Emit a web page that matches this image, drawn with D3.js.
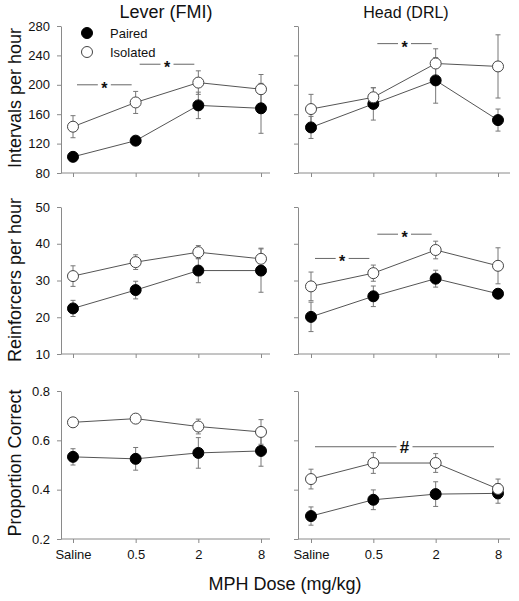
<!DOCTYPE html>
<html>
<head>
<meta charset="utf-8">
<script src="https://cdn.jsdelivr.net/npm/d3@7"></script>
<style>
  html, body { margin: 0; padding: 0; background: #fff; }
  svg { display: block; font-family: "Liberation Sans", Arial, sans-serif; }
</style>
</head>
<body>
<svg id="chart" width="519" height="601"></svg>
<script>
// ---------- data ----------
const categories = ["Saline", "0.5", "2", "8"];
const seriesNames = ["Paired", "Isolated"];
const columnTitles = ["Lever (FMI)", "Head (DRL)"];
const rowTitles = ["Intervals per hour", "Reinforcers per hour", "Proportion Correct"];
const xAxisTitle = "MPH Dose (mg/kg)";

const intervalTicks = [80, 120, 160, 200, 240, 280];
const reinforcerTicks = [10, 20, 30, 40, 50];
const proportionTicks = [0.2, 0.4, 0.6, 0.8];

// Intervals per hour
const leverIntervalsPaired = [102, 124, 172, 168];
const leverIntervalsPairedErr = [5, 5, 18, 34];
const leverIntervalsIsolated = [143, 176, 203, 194];
const leverIntervalsIsolatedErr = [15, 15, 16, 20];
const headIntervalsPaired = [142, 174, 206, 152];
const headIntervalsPairedErr = [15, 22, 31, 15];
const headIntervalsIsolated = [167, 183, 229, 225];
const headIntervalsIsolatedErr = [20, 13, 20, 43];

// Reinforcers per hour
const leverReinfPaired = [22.4, 27.4, 32.7, 32.7];
const leverReinfPairedErr = [2.2, 2.4, 3.3, 5.9];
const leverReinfIsolated = [31.2, 35.0, 37.7, 35.9];
const leverReinfIsolatedErr = [2.8, 2.0, 1.8, 2.9];
const headReinfPaired = [20.1, 25.7, 30.5, 26.4];
const headReinfPairedErr = [4.0, 2.8, 2.3, 1.2];
const headReinfIsolated = [28.4, 32.0, 38.3, 34.0];
const headReinfIsolatedErr = [3.9, 2.2, 2.4, 4.9];

// Proportion correct
const leverPropPaired = [0.533, 0.525, 0.549, 0.557];
const leverPropPairedErr = [0.033, 0.046, 0.062, 0.062];
const leverPropIsolated = [0.673, 0.688, 0.656, 0.634];
const leverPropIsolatedErr = [0.015, 0.015, 0.03, 0.05];
const headPropPaired = [0.293, 0.359, 0.382, 0.385];
const headPropPairedErr = [0.037, 0.04, 0.05, 0.04];
const headPropIsolated = [0.443, 0.508, 0.508, 0.403];
const headPropIsolatedErr = [0.04, 0.042, 0.038, 0.04];

// significance annotations: [row, col, fromCategory, toCategory, yValue, symbol]
const sigMarks = [
  [0, 0, "Saline", "0.5", 200, "*"],
  [0, 0, "0.5", "2", 228, "*"],
  [0, 1, "0.5", "2", 256, "*"],
  [1, 1, "Saline", "0.5", 36.0, "*"],
  [1, 1, "0.5", "2", 42.6, "*"],
  [2, 1, "Saline", "8", 0.574, "#"]
];

// ---------- layout ----------
const svg = d3.select("#chart");
const colAxisX = [61, 298];
const colPointRange = [[73, 261], [311, 498]];
const colAxisEnd = [270, 510];
const rowRange = [[173, 26], [354, 207], [539, 391]];
const rowTicks = [intervalTicks, reinforcerTicks, proportionTicks];
const rowFormat = [d3.format("d"), d3.format("d"), d3.format(".1f")];

const panelData = [
  [
    [[leverIntervalsPaired, leverIntervalsPairedErr], [leverIntervalsIsolated, leverIntervalsIsolatedErr]],
    [[headIntervalsPaired, headIntervalsPairedErr], [headIntervalsIsolated, headIntervalsIsolatedErr]]
  ],
  [
    [[leverReinfPaired, leverReinfPairedErr], [leverReinfIsolated, leverReinfIsolatedErr]],
    [[headReinfPaired, headReinfPairedErr], [headReinfIsolated, headReinfIsolatedErr]]
  ],
  [
    [[leverPropPaired, leverPropPairedErr], [leverPropIsolated, leverPropIsolatedErr]],
    [[headPropPaired, headPropPairedErr], [headPropIsolated, headPropIsolatedErr]]
  ]
];

const axisColor = "#8a8a8a";
const lineColor = "#555";
const errColor = "#777";
const R = 5.5;

const scales = {};

for (let r = 0; r < 3; r++) {
  for (let c = 0; c < 2; c++) {
    const ticks = rowTicks[r];
    const y = d3.scaleLinear().domain([ticks[0], ticks[ticks.length - 1]]).range(rowRange[r]);
    const x = d3.scalePoint().domain(categories).range(colPointRange[c]);
    scales[r + "-" + c] = { x, y };
    const g = svg.append("g");

    // y axis
    const yAxis = d3.axisLeft(y).tickValues(ticks).tickSize(4).tickSizeOuter(0).tickPadding(7)
      .tickFormat(c === 0 ? rowFormat[r] : () => "");
    const ya = g.append("g").attr("transform", `translate(${colAxisX[c]},0)`).call(yAxis);
    ya.select(".domain").attr("stroke", axisColor);
    ya.selectAll(".tick line").attr("stroke", axisColor);
    ya.selectAll(".tick text").attr("fill", "#111").style("font-size", "13px");

    // x axis
    const yBase = rowRange[r][0];
    g.append("line").attr("x1", colAxisX[c]).attr("x2", colAxisEnd[c])
      .attr("y1", yBase).attr("y2", yBase).attr("stroke", axisColor);
    const xAxis = d3.axisBottom(x).tickSize(4).tickSizeOuter(0).tickPadding(7)
      .tickFormat(r === 2 ? (d => d) : () => "");
    const xa = g.append("g").attr("transform", `translate(0,${yBase})`).call(xAxis);
    xa.select(".domain").remove();
    xa.selectAll(".tick line").attr("stroke", axisColor);
    xa.selectAll(".tick text").attr("fill", "#111").style("font-size", "13px");

    // series
    panelData[r][c].forEach((s, si) => {
      const vals = s[0], errs = s[1];
      const pts = categories.map((cat, i) => ({ cat, v: vals[i], e: errs[i] }));
      const line = d3.line().x(d => x(d.cat)).y(d => y(d.v));
      g.append("path").datum(pts).attr("d", line).attr("fill", "none")
        .attr("stroke", lineColor).attr("stroke-width", 1);
      const eg = g.append("g").attr("stroke", errColor).attr("stroke-width", 1);
      pts.forEach(d => {
        const cx = x(d.cat);
        eg.append("line").attr("x1", cx).attr("x2", cx).attr("y1", y(d.v - d.e)).attr("y2", y(d.v + d.e));
        eg.append("line").attr("x1", cx - 2.5).attr("x2", cx + 2.5).attr("y1", y(d.v - d.e)).attr("y2", y(d.v - d.e));
        eg.append("line").attr("x1", cx - 2.5).attr("x2", cx + 2.5).attr("y1", y(d.v + d.e)).attr("y2", y(d.v + d.e));
      });
    });
    panelData[r][c].forEach((s, si) => {
      const vals = s[0];
      g.selectAll(null).data(categories.map((cat, i) => ({ cat, v: vals[i] }))).join("circle")
        .attr("cx", d => x(d.cat)).attr("cy", d => y(d.v)).attr("r", R)
        .attr("fill", si === 0 ? "#000" : "#fff")
        .attr("stroke", si === 0 ? "#000" : "#444").attr("stroke-width", 1);
    });
  }
}

// significance marks
sigMarks.forEach(([r, c, a, b, v, sym]) => {
  const { x, y } = scales[r + "-" + c];
  const x1 = x(a) + 4, x2 = x(b) - 4, yy = y(v);
  const mid = (x1 + x2) / 2;
  const gap = sym === "#" ? 8 : 6.5;
  svg.append("line").attr("x1", x1).attr("x2", mid - gap).attr("y1", yy).attr("y2", yy)
    .attr("stroke", "#666").attr("stroke-width", 1);
  svg.append("line").attr("x1", mid + gap).attr("x2", x2).attr("y1", yy).attr("y2", yy)
    .attr("stroke", "#666").attr("stroke-width", 1);
  svg.append("text").attr("x", mid).attr("y", sym === "#" ? yy + 6 : yy + 9)
    .attr("text-anchor", "middle").attr("fill", "#111")
    .style("font-size", sym === "#" ? "17px" : "16px").style("font-weight", "bold")
    .text(sym);
});

// legend
const legend = svg.append("g");
seriesNames.forEach((name, i) => {
  const ly = 33 + i * 19;
  legend.append("circle").attr("cx", 87).attr("cy", ly).attr("r", R)
    .attr("fill", i === 0 ? "#000" : "#fff").attr("stroke", i === 0 ? "#000" : "#444");
  legend.append("text").attr("x", 110).attr("y", ly + 5).attr("fill", "#111")
    .style("font-size", "13px").text(name);
});

// column titles
svg.append("text").attr("x", 166).attr("y", 18).attr("text-anchor", "middle")
  .style("font-size", "18px").attr("fill", "#111").text(columnTitles[0]);
svg.append("text").attr("x", 406).attr("y", 18).attr("text-anchor", "middle")
  .style("font-size", "16px").attr("fill", "#111").text(columnTitles[1]);

// row titles
const rowCenters = [98, 280, 463];
rowTitles.forEach((t, i) => {
  svg.append("text").attr("transform", `translate(21,${rowCenters[i]}) rotate(-90)`)
    .attr("text-anchor", "middle").style("font-size", "18px").attr("fill", "#111").text(t);
});

// x axis title
svg.append("text").attr("x", 285).attr("y", 590).attr("text-anchor", "middle")
  .style("font-size", "18px").attr("fill", "#111").text(xAxisTitle);
</script>
</body>
</html>
